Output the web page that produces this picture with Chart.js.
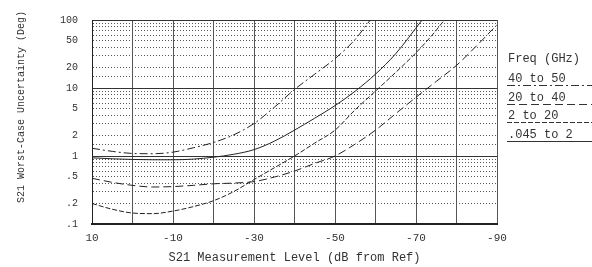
<!DOCTYPE html>
<html><head><meta charset="utf-8">
<script src="https://cdn.jsdelivr.net/npm/chart.js@4.4.1/dist/chart.umd.min.js"></script>
<style>html,body{margin:0;padding:0;background:#fff}#wrap{width:592px;height:267px;position:relative}</style>
</head><body><div id="wrap"><canvas id="c" width="592" height="267"></canvas></div>
<script>
// ---- data ----
const seriesLabels = ['40 to 50', '20 to 40', '2 to 20', '.045 to 2'];
const legendTitle = 'Freq (GHz)';
const yAxisTitle = 'S21 Worst-Case Uncertainty (Deg)';
const xAxisTitle = 'S21 Measurement Level (dB from Ref)';

const lvl4050 = [10, 5, 0, -5, -10, -15, -20, -25, -30, -35, -40, -45, -50, -55, -58.7];
const unc4050 = [1.3, 1.17, 1.09, 1.08, 1.14, 1.32, 1.58, 2.05, 3.0, 5.2, 9.5, 16, 27, 52, 100];

const lvl2040 = [10, 5, 0, -5, -10, -15, -20, -25, -30, -35, -40, -45, -50, -55, -60, -65, -70, -75, -80, -85, -90];
const unc2040 = [0.47, 0.41, 0.37, 0.35, 0.355, 0.37, 0.39, 0.4, 0.42, 0.49, 0.6, 0.78, 1.0, 1.5, 2.4, 4.2, 7.3, 12.5, 21.5, 42, 85];

const lvl220 = [10, 5, 0, -5, -10, -15, -20, -25, -30, -35, -40, -45, -50, -55, -60, -65, -70, -74, -77];
const unc220 = [0.2, 0.165, 0.145, 0.142, 0.155, 0.18, 0.22, 0.3, 0.45, 0.67, 1.0, 1.55, 2.4, 4.8, 9, 17, 33, 60, 100];

const lvl0452 = [10, 5, 0, -5, -10, -15, -20, -25, -30, -35, -40, -45, -50, -55, -60, -65, -71.5];
const unc0452 = [0.94, 0.91, 0.89, 0.88, 0.88, 0.9, 0.96, 1.06, 1.24, 1.65, 2.4, 3.6, 5.5, 9, 16, 32, 100];

const xTickLabels = [10, -10, -30, -50, -70, -90];
const yTickValues = [0.1, 0.2, 0.5, 1, 2, 5, 10, 20, 50, 100];
const yTickTexts  = ['.1', '.2', '.5', '1', '2', '5', '10', '20', '50', '100'];

// ---- chart ----
const FONT = '"Liberation Mono", "DejaVu Sans Mono", monospace';
const INK = '#333';
const pts = (xs, ys) => xs.map((x, i) => ({x: x, y: ys[i]}));
const dashes = [[8, 3, 2, 3], [8, 4], [5, 2], []];
const sets = [[lvl4050, unc4050], [lvl2040, unc2040], [lvl220, unc220], [lvl0452, unc0452]];

const isDecade = v => Math.abs(Math.log10(v) - Math.round(Math.log10(v))) < 1e-6;

const legendPlugin = {
  id: 'underlineLegend',
  afterDraw(chart) {
    const ctx = chart.ctx;
    ctx.save();
    ctx.fillStyle = INK;
    ctx.font = '12px ' + FONT;
    ctx.textBaseline = 'alphabetic';
    ctx.textAlign = 'left';
    ctx.fillText(legendTitle, 508, 62);
    chart.data.datasets.forEach((ds, i) => {
      const y = 82 + i * 18.5;
      ctx.fillStyle = INK;
      ctx.fillText(ds.label, 508, y);
      ctx.beginPath();
      ctx.setLineDash(ds.borderDash || []);
      ctx.strokeStyle = '#333';
      ctx.lineWidth = 1;
      ctx.moveTo(507, Math.round(y + 3) + 0.5);
      ctx.lineTo(592, Math.round(y + 3) + 0.5);
      ctx.stroke();
    });
    ctx.setLineDash([]);
    // y axis title (rotated)
    ctx.translate(21, 107);
    ctx.rotate(-Math.PI / 2);
    ctx.font = '10px ' + FONT;
    ctx.textAlign = 'center';
    ctx.textBaseline = 'middle';
    ctx.fillStyle = INK;
    ctx.fillText(yAxisTitle, 0, 0);
    ctx.restore();
  }
};

new Chart(document.getElementById('c'), {
  type: 'line',
  data: {
    datasets: sets.map((s, i) => ({
      label: seriesLabels[i],
      data: pts(s[0], s[1]),
      borderColor: '#222',
      borderWidth: 1,
      borderDash: dashes[i],
      pointRadius: 0,
      cubicInterpolationMode: 'monotone',
      fill: false
    }))
  },
  options: {
    responsive: false,
    devicePixelRatio: 1,
    animation: false,
    layout: {padding: {left: 0, right: 95, top: 19, bottom: 0}},
    plugins: {legend: {display: false}, tooltip: {enabled: false}},
    scales: {
      x: {
        type: 'linear',
        reverse: true,
        min: -90, max: 10,
        afterFit: s => { s.height = 43; },
        ticks: {
          stepSize: 10,
          autoSkip: false,
          maxRotation: 0,
          padding: 7,
          color: INK,
          font: {family: FONT, size: 11},
          callback: v => xTickLabels.includes(v) ? String(v) : ''
        },
        grid: {color: '#555', lineWidth: 1, drawTicks: false},
        border: {display: true, color: '#222', width: 2},
        title: {display: true, text: xAxisTitle, color: INK,
                font: {family: FONT, size: 12}, padding: {top: 0, bottom: 2}}
      },
      y: {
        type: 'logarithmic',
        min: 0.1, max: 100,
        afterFit: s => { s.width = 92; },
        ticks: {
          autoSkip: false,
          padding: 14,
          color: INK,
          font: {family: FONT, size: 10},
          callback: v => {
            const k = yTickValues.findIndex(t => Math.abs(t - v) / t < 1e-6);
            return k >= 0 ? yTickTexts[k] : '';
          }
        },
        grid: {
          drawTicks: false,
          lineWidth: 1,
          color: c => (c.tick && isDecade(c.tick.value)) ? '#333' : '#555'
        },
        border: {
          display: true, color: '#222', width: 1,
          dash: c => (c.tick && !isDecade(c.tick.value)) ? [1, 2] : []
        },
        title: {display: false}
      }
    }
  },
  plugins: [legendPlugin]
});
</script></body></html>
